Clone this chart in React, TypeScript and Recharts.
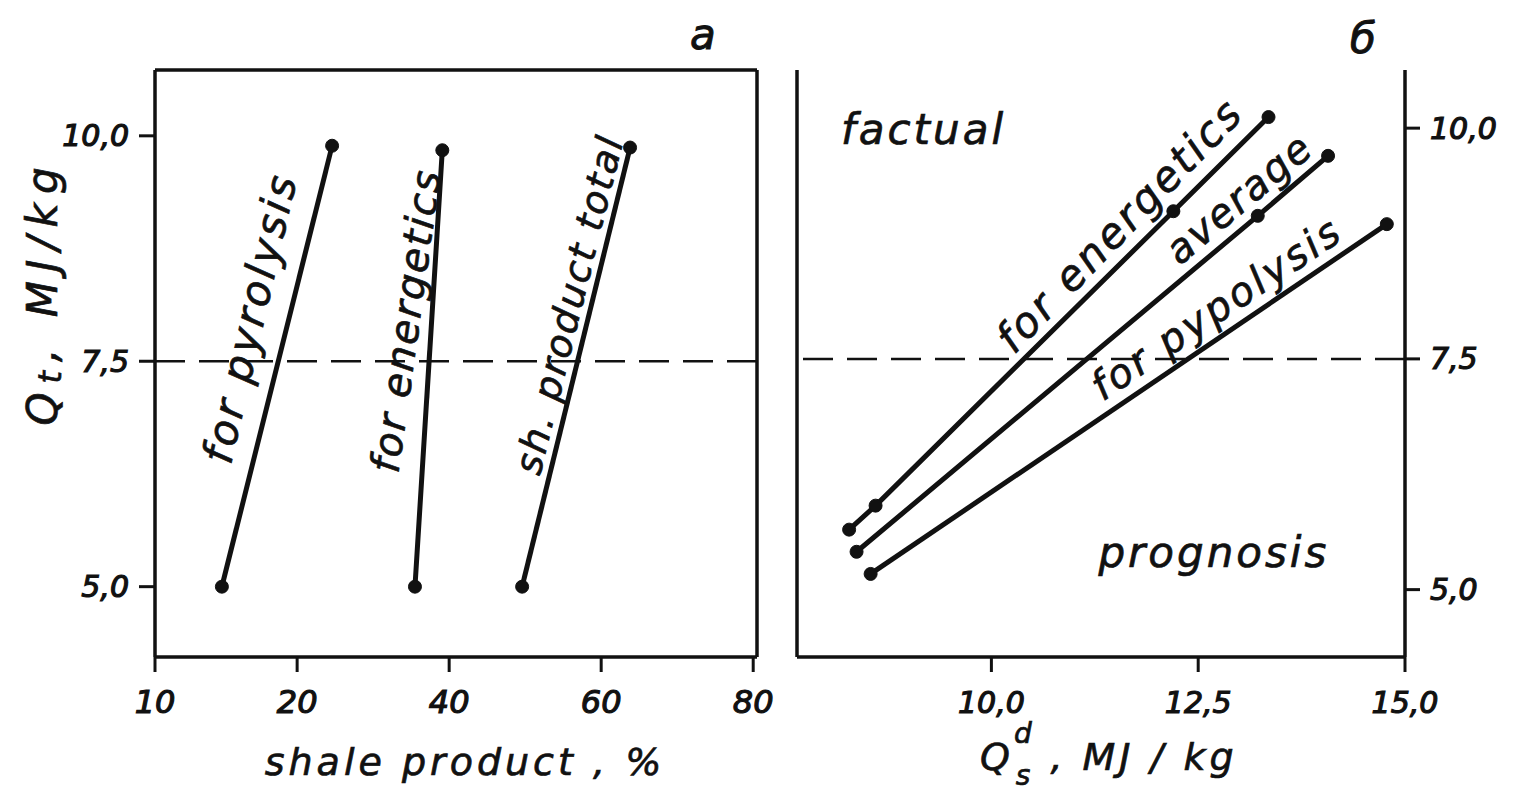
import React from "react";
import { LineChart, Line, XAxis, YAxis, ReferenceLine, ReferenceDot, Label } from "recharts";

// tick positions and the labels printed at them
const heatTicks = [5, 7.5, 10];
const heatTickLabels = ["5,0", "7,5", "10,0"];
const shareTicks = [1.3, 20, 40, 60, 80];
const shareTickLabels = ["10", "20", "40", "60", "80"];
const dryTicks = [10, 12.5, 15];
const dryTickLabels = ["10,0", "12,5", "15,0"];

// panel a: shale product share (%) vs Qt
const pyrolysisShare = [10.1, 24.6];
const pyrolysisQt = [5.0, 9.89];
const energeticsShare = [35.5, 39.1];
const energeticsQt = [5.0, 9.84];
const totalShare = [49.6, 63.8];
const totalQt = [5.0, 9.87];

// panel б: Qs(d) vs Qt
const energeticsQs = [8.28, 8.6, 12.2, 13.35];
const energeticsQtB = [5.65, 5.91, 9.1, 10.12];
const averageQs = [8.37, 13.22, 14.07];
const averageQt = [5.41, 9.05, 9.7];
const pyrolysisQs = [8.54, 14.78];
const pyrolysisQtB = [5.17, 8.96];

const INK = "#111";
const FONT = "'DejaVu Sans', sans-serif";

const pts = (xs: number[], ys: number[]) => xs.map((x, i) => ({ x, y: ys[i] }));

const makeTick =
  (ticks: number[], labels: string[], anchor: "start" | "middle" | "end", dx: number, dy: number, size = 30) =>
  (props: any) => {
    const { x, y, payload } = props;
    const i = ticks.indexOf(payload.value);
    return (
      <text
        x={x + dx}
        y={y + dy}
        textAnchor={anchor}
        dominantBaseline="central"
        fontFamily={FONT}
        fontStyle="italic"
        fontSize={size}
        fill={INK}
        stroke={INK}
        strokeWidth={1.2}
      >
        {labels[i]}
      </text>
    );
  };

const tagAt =
  (text: string, angle: number, size: number, spacing: number) =>
  (props: any) => {
    const { cx, cy } = props;
    return (
      <text
        x={cx}
        y={cy}
        transform={`rotate(${angle} ${cx} ${cy})`}
        textAnchor="middle"
        dominantBaseline="central"
        fontFamily={FONT}
        fontStyle="italic"
        fontSize={size}
        letterSpacing={spacing}
        fill={INK}
        stroke={INK}
        strokeWidth={0.7}
      >
        {text}
      </text>
    );
  };

const dotStyle = { r: 6.5, fill: INK, stroke: INK, strokeWidth: 1 };
const lineProps = { stroke: INK, strokeWidth: 5, dot: dotStyle, isAnimationActive: false, type: "linear" as const };
const frame = { stroke: INK, strokeWidth: 3.5 };

function PanelA() {
  return (
    <LineChart width={780} height={790} margin={{ top: 70, right: 23, bottom: 0, left: 0 }}>
      <XAxis
        type="number"
        dataKey="x"
        domain={[1.3, 80.5]}
        allowDataOverflow
        ticks={shareTicks}
        interval={0}
        height={133}
        tickSize={15}
        tickLine={{ stroke: INK, strokeWidth: 3 }}
        axisLine={frame}
        tick={makeTick(shareTicks, shareTickLabels, "middle", 0, 28, 32)}
      >
        <Label
          content={(p: any) => (
            <text
              x={p.viewBox.x + 310}
              y={p.viewBox.y + 105}
              textAnchor="middle"
              dominantBaseline="central"
              fontFamily={FONT}
              fontStyle="italic"
              fontSize={38}
              fill={INK}
              stroke={INK}
              strokeWidth={0.7}
              letterSpacing={4}
            >
              shale product , %
            </text>
          )}
        />
      </XAxis>
      <YAxis
        type="number"
        domain={[4.22, 10.73]}
        allowDataOverflow
        ticks={heatTicks}
        interval={0}
        width={155}
        tickSize={16}
        tickLine={{ stroke: INK, strokeWidth: 3 }}
        axisLine={frame}
        tick={makeTick(heatTicks, heatTickLabels, "end", -8, 0)}
      >
        <Label
          content={(p: any) => {
            const cx = p.viewBox.x + 42;
            const cy = p.viewBox.y + 222;
            return (
              <text
                x={cx}
                y={cy}
                transform={`rotate(-90 ${cx} ${cy})`}
                textAnchor="middle"
                dominantBaseline="central"
                fontFamily={FONT}
                fontStyle="italic"
                fontSize={42}
                fill={INK}
                stroke={INK}
                strokeWidth={0.7}
                letterSpacing={9}
              >
                Q<tspan fontSize={32} dy={8}>t</tspan>
                <tspan dy={-8}>, MJ/kg</tspan>
              </text>
            );
          }}
        />
      </YAxis>
      <ReferenceLine y={10.73} {...frame} />
      <ReferenceLine x={80.5} {...frame} />
      <ReferenceLine y={7.5} stroke={INK} strokeWidth={2.5} strokeDasharray="30 14" />
      <Line data={pts(pyrolysisShare, pyrolysisQt)} dataKey="y" {...lineProps} />
      <Line data={pts(energeticsShare, energeticsQt)} dataKey="y" {...lineProps} />
      <Line data={pts(totalShare, totalQt)} dataKey="y" {...lineProps} />
      <ReferenceDot x={13.8} y={7.98} r={1} shape={tagAt("for pyrolysis", -77, 42, 3)} />
      <ReferenceDot x={34.3} y={7.95} r={1} shape={tagAt("for energetics", -82, 40, 2)} />
      <ReferenceDot x={55.8} y={8.13} r={1} shape={tagAt("sh. product total", -76, 38, 2)} />
    </LineChart>
  );
}

function PanelB() {
  return (
    <LineChart width={733} height={790} margin={{ top: 70, right: 0, bottom: 0, left: 17 }}>
      <XAxis
        type="number"
        dataKey="x"
        domain={[7.65, 15.0]}
        allowDataOverflow
        ticks={dryTicks}
        interval={0}
        height={133}
        tickSize={15}
        tickLine={{ stroke: INK, strokeWidth: 3 }}
        axisLine={frame}
        tick={makeTick(dryTicks, dryTickLabels, "middle", 0, 28)}
      >
        <Label
          content={(p: any) => (
            <text
              x={p.viewBox.x + 183}
              y={p.viewBox.y + 100}
              textAnchor="start"
              dominantBaseline="central"
              fontFamily={FONT}
              fontStyle="italic"
              fontSize={38}
              fill={INK}
              stroke={INK}
              strokeWidth={0.7}
              letterSpacing={4}
            >
              Q<tspan fontSize={28} dy={-24}>d</tspan>
              <tspan fontSize={28} dx={-20} dy={42}>s</tspan>
              <tspan dy={-18}> , MJ / kg</tspan>
            </text>
          )}
        />
      </XAxis>
      <YAxis
        orientation="right"
        type="number"
        domain={[4.27, 10.63]}
        allowDataOverflow
        ticks={heatTicks}
        interval={0}
        width={108}
        tickSize={15}
        tickLine={{ stroke: INK, strokeWidth: 3 }}
        axisLine={frame}
        tick={makeTick(heatTicks, heatTickLabels, "start", 8, 0)}
      />
      <ReferenceLine x={7.65} {...frame} />
      <ReferenceLine y={7.5} stroke={INK} strokeWidth={2.5} strokeDasharray="30 14" />
      <Line data={pts(energeticsQs, energeticsQtB)} dataKey="y" {...lineProps} />
      <Line data={pts(averageQs, averageQt)} dataKey="y" {...lineProps} />
      <Line data={pts(pyrolysisQs, pyrolysisQtB)} dataKey="y" {...lineProps} />
      <ReferenceDot x={11.55} y={8.95} r={1} shape={tagAt("for energetics", -46, 42, 3)} />
      <ReferenceDot x={12.99} y={9.24} r={1} shape={tagAt("average", -40, 40, 2)} />
      <ReferenceDot x={12.72} y={8.05} r={1} shape={tagAt("for pypolysis", -34, 40, 3)} />
      <ReferenceDot x={9.18} y={9.98} r={1} shape={tagAt("factual", 0, 42, 3)} />
      <ReferenceDot x={12.69} y={5.4} r={1} shape={tagAt("prognosis", 0, 42, 3)} />
    </LineChart>
  );
}

const letterStyle: React.CSSProperties = {
  position: "absolute",
  fontFamily: FONT,
  fontStyle: "italic",
  fontSize: 42,
  color: INK,
  lineHeight: 1,
  WebkitTextStroke: "1px #111",
};

export default function App() {
  return (
    <div style={{ position: "absolute", left: 0, top: 0, width: 1513, height: 790, background: "#fff", overflow: "hidden" }}>
      <div style={{ position: "absolute", left: 0, top: 0 }}>
        <PanelA />
      </div>
      <div style={{ position: "absolute", left: 780, top: 0 }}>
        <PanelB />
      </div>
      <div style={{ ...letterStyle, left: 690, top: 14 }}>a</div>
      <div style={{ ...letterStyle, left: 1350, top: 18 }}>б</div>
    </div>
  );
}
